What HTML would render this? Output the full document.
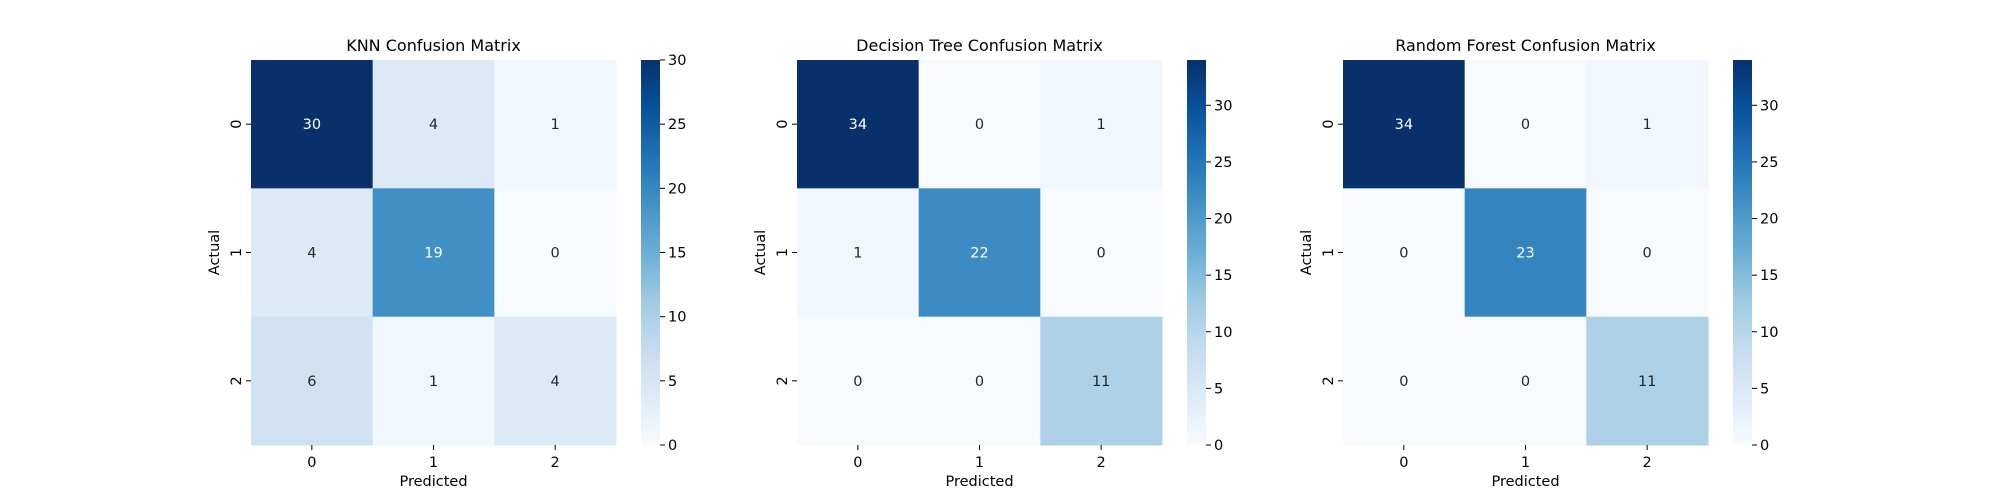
<!DOCTYPE html>
<html><head><meta charset="utf-8"><style>
html,body{margin:0;padding:0;background:#fff}
svg{display:block;font-family:"DejaVu Sans","Liberation Sans",sans-serif}
</style></head><body>
<svg id="fig" width="2000" height="500" viewBox="0 0 2000 500" xmlns="http://www.w3.org/2000/svg"></svg>
<script>
const titles = ["KNN Confusion Matrix","Decision Tree Confusion Matrix","Random Forest Confusion Matrix"];
const classLabels = ["0","1","2"];
const knnValues = [[30,4,1],[4,19,0],[6,1,4]];
const dtValues = [[34,0,1],[1,22,0],[0,0,11]];
const rfValues = [[34,0,1],[0,23,0],[0,0,11]];
const colorbarTicks = [0,5,10,15,20,25,30];

const matrices = [knnValues, dtValues, rfValues];
const NS = "http://www.w3.org/2000/svg";
const svgRoot = document.getElementById('fig');
const stops = ["#f7fbff","#deebf7","#c6dbef","#9ecae1","#6baed6","#4292c6","#2171b5","#08519c","#08306b"];
function hex(h){return [1,3,5].map(i=>parseInt(h.substr(i,2),16));}
function blues(t){
  t=Math.max(0,Math.min(1,t));const p=t*8,i=Math.min(7,Math.floor(p)),f=p-i;
  const a=hex(stops[i]),b=hex(stops[i+1]);
  return a.map((v,k)=>v+(b[k]-v)*f);
}
function rgb(c){return `rgb(${c.map(Math.round).join(',')})`;}
function lum(c){const l=c.map(v=>{v/=255;return v<=0.03928?v/12.92:Math.pow((v+0.055)/1.055,2.4)});return 0.2126*l[0]+0.7152*l[1]+0.0722*l[2];}
function el(tag,attrs,parent){const e=document.createElementNS(NS,tag);for(const k in attrs)e.setAttribute(k,attrs[k]);(parent||svgRoot).appendChild(e);return e;}
function txt(s,attrs,parent){const e=el('text',attrs,parent);e.textContent=s;return e;}

const topY=60,H=385,W=365,step=546,left0=251,fs=14.5;
matrices.forEach((m,p)=>{
  const g=el('g',{});
  
  
  const L=left0+p*step;
  const vmin=Math.min(...m.flat()),vmax=Math.max(...m.flat());
  const n=classLabels.length,cw=W/n,ch=H/n;
  const xs=j=>L+j*cw, ys=i=>topY+i*ch;
  m.forEach((row,i)=>row.forEach((v,j)=>{
    const c=blues((v-vmin)/(vmax-vmin));
    const r=el('rect',{x:xs(j),y:ys(i),width:cw+0.5,height:ch+0.5,fill:rgb(c)},g);
    
    
    const t=txt(String(v),{x:xs(j)+cw/2,y:ys(i)+ch/2+5,'text-anchor':'middle','font-size':fs,fill:lum(c)>0.408?'#262626':'#ffffff'},g);
    
    
  }));
  classLabels.forEach((lab,k)=>{
    const cx=xs(k)+cw/2;
    el('line',{x1:cx,y1:topY+H,x2:cx,y2:topY+H+5,stroke:'#000'},g);
    const t=txt(lab,{x:cx,y:topY+H+22,'text-anchor':'middle','font-size':fs},g);
    
    
    const cy=ys(k)+ch/2;
    el('line',{x1:L,y1:cy,x2:L-5,y2:cy,stroke:'#000'},g);
    const t2=txt(lab,{x:0,y:0,'text-anchor':'middle','font-size':fs,transform:`translate(${L-10},${cy}) rotate(-90)`},g);
    
    
  });
  const tt=txt(titles[p],{x:L+W/2,y:topY-9,'text-anchor':'middle','font-size':16},g);
  
  
  const xl=txt('Predicted',{x:L+W/2,y:topY+H+41,'text-anchor':'middle','font-size':fs},g);
  
  
  const yl=txt('Actual',{x:0,y:0,'text-anchor':'middle','font-size':fs,transform:`translate(${L-32},${topY+H/2}) rotate(-90)`},g);
  
  
  const cbx=L+390,cbw=19;
  const gid='grad'+p;
  const defs=el('defs',{},g);
  const lg=el('linearGradient',{id:gid,x1:0,y1:1,x2:0,y2:0},defs);
  for(let k=0;k<=16;k++){el('stop',{offset:k/16,'stop-color':rgb(blues(k/16))},lg);}
  const cb=el('rect',{x:cbx,y:topY,width:cbw,height:H,fill:`url(#${gid})`},g);
  
  
  const cyf=v=>topY+H-(v-vmin)/(vmax-vmin)*H;
  colorbarTicks.forEach(v=>{
    if(v>vmax)return;
    const y=cyf(v);
    el('line',{x1:cbx+cbw,y1:y,x2:cbx+cbw+5,y2:y,stroke:'#000'},g);
    const t=txt(String(v),{x:cbx+cbw+8,y:y+5,'font-size':fs},g);
    
    
  });
});
</script>
</body></html>
